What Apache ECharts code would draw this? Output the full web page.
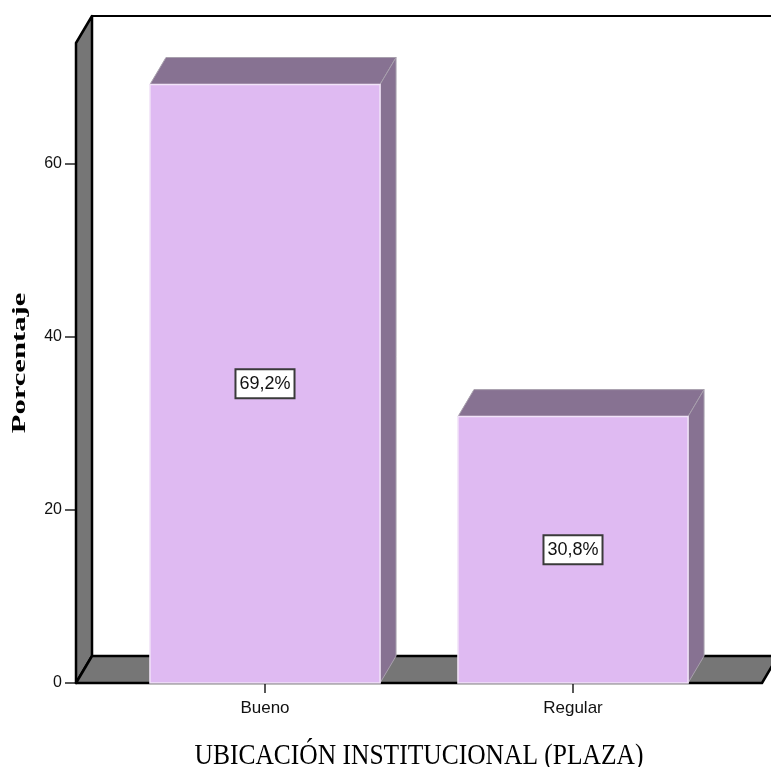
<!DOCTYPE html>
<html>
<head>
<meta charset="utf-8">
<script src="https://cdn.jsdelivr.net/npm/echarts@6/dist/echarts.min.js"></script>
<style>
  html, body { margin: 0; padding: 0; background: #ffffff; }
  #chart { width: 771px; height: 767px; }
</style>
</head>
<body>
<div id="chart"></div>
<script>
// Categories and percentage values
const categories = ['Bueno', 'Regular'];
const percentages = [69.2, 30.8];
const yTickValues = [0, 20, 40, 60];
const yTitle = 'Porcentaje';
const xTitle = 'UBICACIÓN INSTITUCIONAL (PLAZA)';

// 3D look: depth offset of the back plane and padding of the frame around the grid
const DEPTH_X = 16;
const DEPTH_Y = -27;
const FRAME_PAD = 35;
const BAR_RATIO = 0.747;

const FACE_COLOR = '#dfbaf2';
const SHADE_COLOR = '#877292';
const WALL_COLOR = '#767676';
const SANS = '"Liberation Sans", Arial, sans-serif';

const fmtPct = v => v.toFixed(1).replace('.', ',') + '%';

function renderFrame(params, api) {
  const cs = params.coordSys;
  const left = cs.x - FRAME_PAD;
  const right = cs.x + cs.width + FRAME_PAD;
  const top = cs.y;
  const bottom = cs.y + cs.height;
  const dx = DEPTH_X, dy = DEPTH_Y;
  return {
    type: 'group',
    children: [
      { // back wall
        type: 'polygon',
        shape: { points: [[left + dx, top + dy], [right + dx, top + dy], [right + dx, bottom + dy], [left + dx, bottom + dy]] },
        style: { fill: '#ffffff', stroke: '#000000', lineWidth: 2 }
      },
      { // left wall
        type: 'polygon',
        shape: { points: [[left, top], [left + dx, top + dy], [left + dx, bottom + dy], [left, bottom]] },
        style: { fill: WALL_COLOR, stroke: '#000000', lineWidth: 2.5, lineJoin: 'round' }
      },
      { // floor
        type: 'polygon',
        shape: { points: [[left, bottom], [right, bottom], [right + dx, bottom + dy], [left + dx, bottom + dy]] },
        style: { fill: WALL_COLOR, stroke: '#000000', lineWidth: 2.5, lineJoin: 'round' }
      }
    ]
  };
}

function renderBar(params, api) {
  const idx = api.value(0);
  const val = api.value(1);
  const topPt = api.coord([idx, val]);
  const basePt = api.coord([idx, 0]);
  const band = api.size([1, 0])[0];
  const w = band * BAR_RATIO;
  const x0 = topPt[0] - w / 2;
  const x1 = topPt[0] + w / 2;
  const yt = topPt[1];
  const yb = basePt[1];
  const dx = DEPTH_X, dy = DEPTH_Y;
  return {
    type: 'group',
    children: [
      { // top face
        type: 'polygon',
        shape: { points: [[x0, yt], [x0 + dx, yt + dy], [x1 + dx, yt + dy], [x1, yt]] },
        style: { fill: SHADE_COLOR, stroke: '#a8a0ad', lineWidth: 1 }
      },
      { // side face
        type: 'polygon',
        shape: { points: [[x1, yt], [x1 + dx, yt + dy], [x1 + dx, yb + dy], [x1, yb]] },
        style: { fill: SHADE_COLOR, stroke: '#a8a0ad', lineWidth: 1 }
      },
      { // front face
        type: 'rect',
        shape: { x: x0, y: yt, width: w, height: yb - yt },
        style: { fill: FACE_COLOR, stroke: '#f1e3f8', lineWidth: 1.5 }
      },
      { // value label
        type: 'text',
        x: topPt[0],
        y: (yt + yb) / 2,
        style: {
          text: fmtPct(val),
          align: 'center',
          verticalAlign: 'middle',
          fontFamily: SANS,
          fontSize: 18,
          fill: '#111111',
          backgroundColor: '#ffffff',
          borderColor: '#3a3a3a',
          borderWidth: 2,
          padding: [5, 3, 4, 3]
        }
      }
    ]
  };
}

const chart = echarts.init(document.getElementById('chart'), null, { renderer: 'canvas' });

chart.setOption({
  backgroundColor: '#ffffff',
  animation: false,
  grid: { left: 111, right: 44, top: 43, bottom: 84, containLabel: false },
  xAxis: {
    type: 'category',
    data: categories,
    axisLine: { show: false },
    axisTick: { show: true, alignWithLabel: true, length: 10, lineStyle: { color: '#222222', width: 1.5 } },
    axisLabel: { margin: 17, fontSize: 17, color: '#111111', fontFamily: SANS },
    splitLine: { show: false }
  },
  yAxis: {
    type: 'value',
    min: 0,
    max: 74,
    interval: 20,
    offset: FRAME_PAD,
    axisLine: { show: false },
    axisTick: { show: true, length: 11, customValues: yTickValues, lineStyle: { color: '#222222', width: 1.5 } },
    axisLabel: { margin: 14, fontSize: 16, color: '#111111', customValues: yTickValues, fontFamily: SANS },
    splitLine: { show: false }
  },
  graphic: [
    {
      type: 'text',
      x: 20,
      y: 363,
      rotation: Math.PI / 2,
      scaleX: 1.7,
      style: {
        text: yTitle,
        align: 'center',
        verticalAlign: 'middle',
        font: 'bold 18px "Liberation Serif", "Times New Roman", serif',
        fill: '#000000'
      }
    },
    {
      type: 'text',
      x: 419,
      y: 756,
      scaleY: 1.12,
      style: {
        text: xTitle,
        align: 'center',
        verticalAlign: 'middle',
        font: '25.5px "Liberation Serif", "Times New Roman", serif',
        fill: '#000000'
      }
    }
  ],
  series: [
    {
      type: 'custom',
      name: 'frame',
      z: 1,
      silent: true,
      renderItem: renderFrame,
      encode: { x: 0, y: 1 },
      data: [[0, 0]]
    },
    {
      type: 'custom',
      name: 'Porcentaje',
      z: 3,
      renderItem: renderBar,
      encode: { x: 0, y: 1 },
      data: percentages.map((v, i) => [i, v])
    }
  ]
});
</script>
</body>
</html>
